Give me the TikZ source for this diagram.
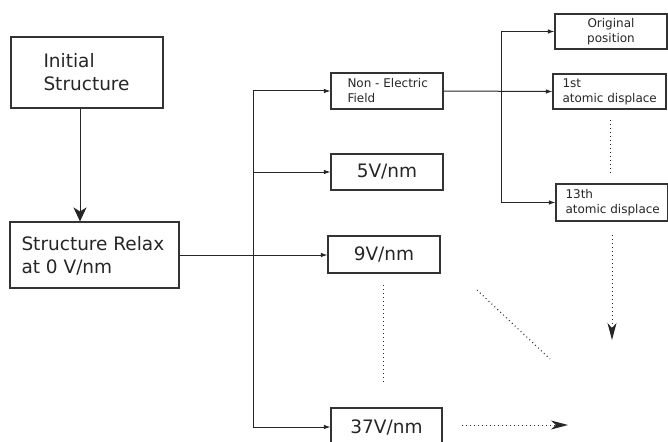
\documentclass[tikz,border=0pt]{standalone}
\usepackage{fontspec}
\setmainfont{DejaVu Sans}
\usetikzlibrary{arrows.meta}
\begin{document}
\begin{tikzpicture}[x=1pt,y=-1pt,
  line width=1pt, draw=black!85,
  box/.style={draw=black!80, line width=1.1pt, inner sep=0pt},
  big/.style={font=\fontsize{18.5}{23}\selectfont, inner sep=0pt, align=left, text=black!85},
  small/.style={font=\fontsize{12}{15}\selectfont, inner sep=0pt, align=left, text=black!85},
  sarr/.style={-{Latex[length=6.5pt,width=4.5pt]}},
  barr/.style={-{Stealth[length=14pt,width=13pt,inset=4pt]}},
  dotline/.style={dash pattern=on 1pt off 3pt, line width=1pt},
  darr/.style={dotline,-{Stealth[length=17pt,width=9pt,inset=5pt]}}
]
\useasboundingbox (0,0) rectangle (668,441);
\clip (0,0) rectangle (668,441);
% boxes
\node[box, minimum width=152pt, minimum height=71pt] (init) at (87,72.5) {};
\node[big, anchor=west] (initt) at (43,72.5) {Initial\\Structure};
\node[box, minimum width=169pt, minimum height=66pt] (relax) at (94.5,255) {};
\node[big, anchor=west] (relaxt) at (21,255.5) {Structure Relax\\at 0 V/nm};
\node[box, minimum width=112pt, minimum height=36pt] (nef) at (387,91) {};
\node[small, anchor=west] (neft) at (347,91) {Non - Electric\\Field};
\node[box, minimum width=112pt, minimum height=36pt, big, align=center] (v5) at (387,172) {5V/nm};
\node[box, minimum width=112pt, minimum height=37pt, big, align=center] (v9) at (384,254.5) {9V/nm};
\node[box, minimum width=111pt, minimum height=38pt, big, align=center] (v37) at (386.5,427) {37V/nm};
\node[box, minimum width=112pt, minimum height=35pt] (orig) at (611,31.5) {};
\node[small, align=center] (origt) at (611,31.5) {Original\\position};
\node[box, minimum width=113pt, minimum height=35pt] (d1) at (609.5,91.5) {};
\node[small, anchor=west] (d1t) at (562,91.5) {1st\\atomic displace};
\node[box, minimum width=112pt, minimum height=37pt] (d13) at (612,202.5) {};
\node[small, anchor=west] (d13t) at (565,202.5) {13th\\atomic displace};
% main arrows
\draw[barr] ([xshift=-7pt]init.south) -- ([xshift=-7pt]init.south |- relax.north);
\draw[sarr] (relax.east) -- (relax.east -| v9.west);
\coordinate (bT) at (253,91);
\coordinate (bB) at (253,427);
\draw (bT) -- (bB);
\draw[sarr] (bT) -- (nef.west);
\draw[sarr] (bT |- v5) -- (v5.west);
\draw[sarr] (bB) -- (v37.west);
% right bus
\coordinate (rT) at (501,31.5);
\coordinate (rB) at (501,202.5);
\draw (rT) -- (rB);
\draw[sarr] (rT) -- (orig.west);
\draw[sarr] (nef.east) -- (d1.west);
\draw[sarr] (rB) -- (d13.west);
% dotted
\coordinate (dv1) at (610,120);
\coordinate (dv2) at (610,174);
\draw[dotline] (dv1) -- (dv2);
\coordinate (da1) at (612,235);
\coordinate (da2) at (612,340);
\draw[darr] (da1) -- (da2);
\coordinate (dd1) at (477,290);
\coordinate (dd2) at (550,359);
\draw[dotline] (dd1) -- (dd2);
\coordinate (dl1) at (383,285);
\coordinate (dl2) at (383,385);
\draw[dotline] (dl1) -- (dl2);
\coordinate (dh1) at (462,425);
\coordinate (dh2) at (568,425);
\draw[darr] (dh1) -- (dh2);
\end{tikzpicture}
\end{document}
